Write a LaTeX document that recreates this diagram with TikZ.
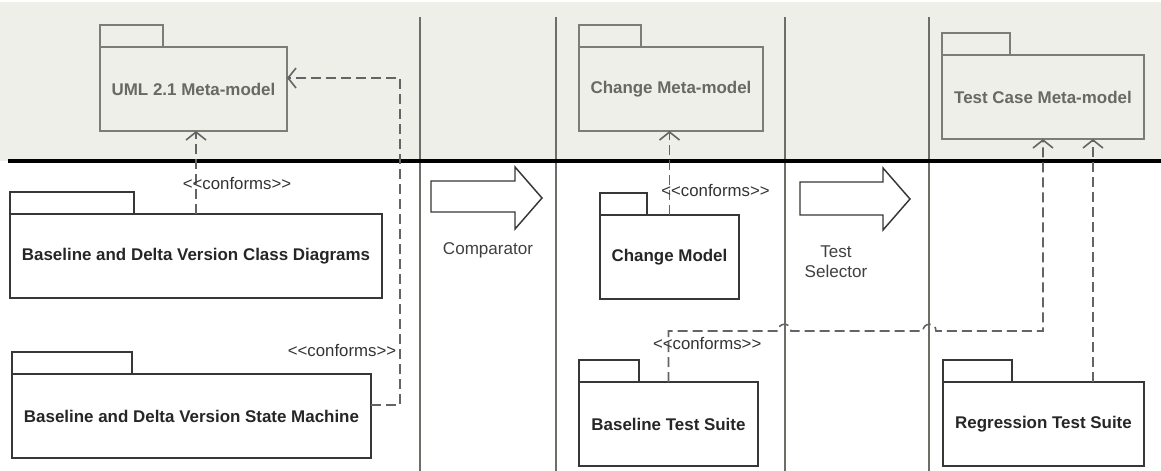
\documentclass[tikz,border=0pt]{standalone}
\usepackage{fontspec}
\setmainfont{Liberation Sans}
\usetikzlibrary{arrows.meta,positioning}

\definecolor{bandgray}{RGB}{239,239,233}
\definecolor{metaline}{RGB}{125,125,118}
\definecolor{metatext}{RGB}{105,105,100}
\definecolor{lanegray}{RGB}{110,110,105}
\definecolor{modelline}{RGB}{55,55,55}
\definecolor{depgray}{RGB}{100,100,100}

\begin{document}
\begin{tikzpicture}[x=0.75pt,y=-0.75pt,every node/.append style={align=center},
  pkg/.style={draw, line width=1.1pt, minimum height=63pt, inner sep=0pt, outer sep=0pt, font=\bfseries\fontsize{12.7}{15}\selectfont},
  metapkg/.style={pkg, draw=metaline, text=metatext},
  modelpkg/.style={pkg, draw=modelline, text=black!85},
  tab/.style={draw, line width=1.1pt, minimum height=16.5pt, inner sep=0pt, outer sep=0pt},
  conforms/.style={draw=depgray, line width=1.2pt, dash pattern=on 7.5pt off 3.75pt, -{Straight Barb[length=6pt,width=15pt]}},
  stereo/.style={text=black!80, font=\fontsize{12.6}{15}\selectfont, inner sep=0pt},
  lane/.style={draw=lanegray, line width=1.1pt},
  fatarrow/.style={draw=modelline, line width=1.1pt, fill=white, line join=miter},
  toolname/.style={text=black!75, font=\fontsize{12.8}{15}\selectfont}]
    \useasboundingbox (0,0) rectangle (1161,471);
    \fill[bandgray] (0,2) rectangle (1161,161);
    \foreach \x in {420,556,785,929}
      \draw[lane] (\x,17) -- (\x,471);
    \draw[line width=3pt] (8,161) -- (1161,161);

    % meta-models
    \node[metapkg, minimum width=140.25pt] (uml) at (193.5,89) {UML 2.1 Meta-model};
    \node[tab, draw=metaline, minimum width=47.25pt, above right=0pt of uml.north west] (umltab) {};
    \node[metapkg, minimum width=138pt] (chgmeta) at (671,89) {Change Meta-model};
    \node[tab, draw=metaline, minimum width=46.5pt, above right=0pt of chgmeta.north west] (chgmetatab) {};
    \node[metapkg, minimum width=151.5pt] (tcmeta) at (1043,97) {Test Case Meta-model};
    \node[tab, draw=metaline, minimum width=51pt, above right=0pt of tcmeta.north west] (tcmetatab) {};

    % models
    \node[modelpkg, minimum width=279pt] (classdiag) at (196,256) {Baseline and Delta Version Class Diagrams};
    \node[tab, draw=modelline, minimum width=93pt, above right=0pt of classdiag.north west] (classdiagtab) {};
    \node[modelpkg, minimum width=269.25pt] (statemach) at (191.5,416) {Baseline and Delta Version State Machine};
    \node[tab, draw=modelline, minimum width=90pt, above right=0pt of statemach.north west] (statemachtab) {};
    \node[modelpkg, minimum width=104.25pt] (chgmodel) at (669.5,257) {Change Model};
    \node[tab, draw=modelline, minimum width=35.25pt, above right=0pt of chgmodel.north west] (chgmodeltab) {};
    \node[modelpkg, minimum width=134.25pt] (basesuite) at (668.5,424) {Baseline Test Suite};
    \node[tab, draw=modelline, minimum width=45pt, above right=0pt of basesuite.north west] (basesuitetab) {};
    \node[modelpkg, minimum width=150.75pt] (regsuite) at (1043.5,424) {Regression Test Suite};
    \node[tab, draw=modelline, minimum width=51.75pt, above right=0pt of regsuite.north west] (regsuitetab) {};

    % tools
    \draw[fatarrow] (431,181) -- (515,181) -- (515,167) -- (542,198) -- (515,229) -- (515,212) -- (431,212) -- cycle;
    \node[toolname] (comparator) at (488,250) {Comparator};
    \draw[fatarrow] (800,182) -- (883,182) -- (883,168) -- (910,199) -- (883,230) -- (883,215) -- (800,215) -- cycle;
    \node[toolname] (selector) at (836,262) {Test\\Selector};

    % conforms dependencies
    \coordinate (umlin) at ([yshift=8.25pt]uml.east);
    \coordinate (regout) at ([xshift=37.1pt]regsuite.north);
    \draw[conforms] (classdiag.north) -- node[stereo, pos=0.37, xshift=30.75pt] {<{}<conforms>{}>} (classdiag.north |- uml.south);
    \draw[conforms] ([yshift=8.25pt]statemach.east) -- ++(29,0) node[stereo, anchor=east, xshift=-2.25pt, yshift=40.5pt] {<{}<conforms>{}>} |- (umlin);
    \draw[conforms] (chgmodel.north) -- node[stereo, pos=0.29, xshift=34.5pt] {<{}<conforms>{}>} (chgmodel.north |- chgmeta.south);
    \draw[conforms] (basesuite.north) -- node[stereo, pos=0.76, xshift=29pt] {<{}<conforms>{}>} ++(0,-51) -- (778,331)
      .. controls (778,322) and (791,322) .. (791,331) -- (923,331)
      .. controls (923,322) and (936,322) .. (936,331) -| (tcmeta.south);
    \draw[conforms] (regout) -- (regout |- tcmeta.south);
\end{tikzpicture}
\end{document}
